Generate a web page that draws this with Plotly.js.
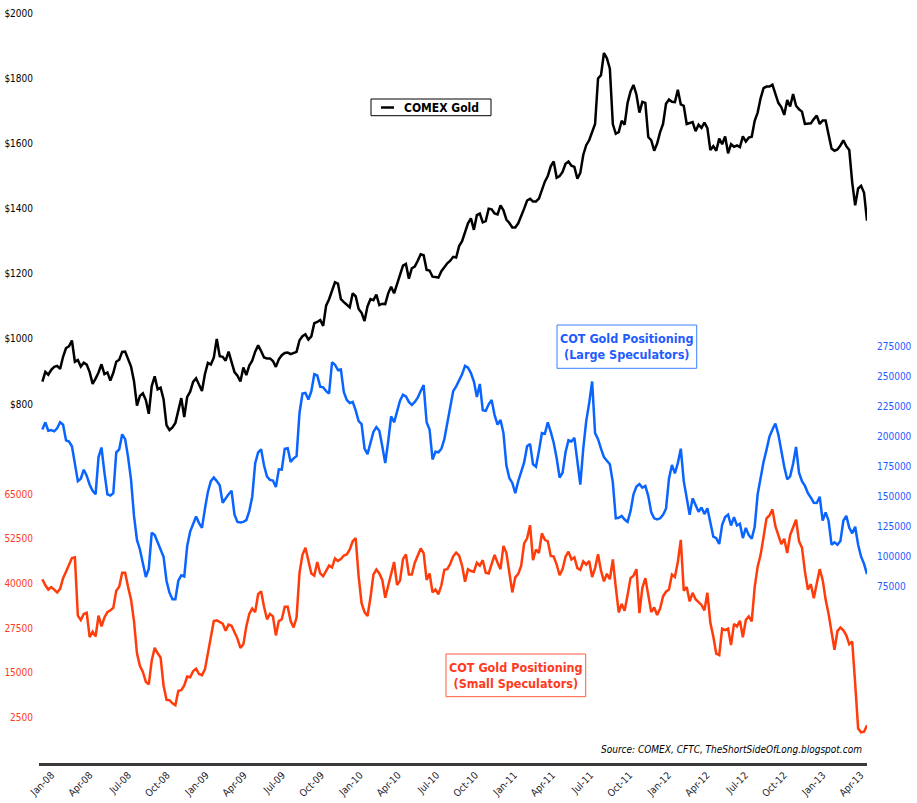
<!DOCTYPE html>
<html>
<head>
<meta charset="utf-8">
<script src="https://cdn.plot.ly/plotly-3.0.1.min.js"></script>
<style>
  html, body { margin: 0; padding: 0; background: #fff; }
  #chart { width: 917px; height: 803px; }
</style>
</head>
<body>
<div id="chart"></div>
<script>
// weekly readings, first week 2008-01-08, last week 2013-05-14
var firstWeek = '2008-01-08';

var gold = [
  869, 899, 890, 905, 914, 917, 908, 945, 972, 977,
  995, 930, 935, 915, 927, 921, 898, 862, 878, 897,
  922, 892, 897, 872, 896, 930, 936, 960, 961, 935,
  915, 870, 795, 825, 833, 812, 770, 855, 885, 845,
  850, 815, 735, 720, 728, 742, 782, 818, 760, 822,
  838, 868, 879, 858, 840, 892, 926, 921, 942, 1000,
  947, 945, 933, 961, 928, 898, 887, 869, 912, 889,
  918, 933, 961, 980, 963, 943, 940, 940, 932, 914,
  937, 950, 957, 958, 953, 956, 960, 996, 1008, 1014,
  998, 1008, 1048, 1052, 1058, 1040, 1102, 1122, 1150, 1174,
  1170, 1122, 1113, 1104, 1097, 1140, 1131, 1092, 1080, 1055,
  1100, 1122, 1119, 1136, 1104, 1108, 1107, 1140, 1160, 1140,
  1168, 1200, 1225, 1230, 1185, 1217, 1222, 1240, 1260, 1257,
  1212, 1210, 1191, 1190, 1188, 1208, 1220, 1232, 1240, 1252,
  1250, 1285,
  1300, 1330, 1355, 1370, 1335, 1380, 1385, 1358, 1362, 1400,
  1398, 1385, 1382, 1410, 1395, 1366, 1356, 1342, 1342, 1355,
  1375, 1400, 1425, 1430, 1422, 1422, 1431, 1455, 1483, 1500,
  1530, 1545, 1495, 1500, 1513, 1538, 1545, 1532, 1528, 1492,
  1510, 1565, 1595, 1610, 1636, 1660, 1800, 1810, 1878, 1862,
  1830, 1660, 1630, 1635, 1670, 1658, 1725, 1760, 1780, 1750,
  1695, 1728, 1725, 1620, 1610, 1578, 1600, 1635, 1660, 1722,
  1735, 1728, 1727, 1765, 1720, 1716, 1660, 1662, 1666, 1638,
  1658, 1648, 1664, 1647, 1580, 1592, 1578, 1615, 1598, 1622,
  1570, 1598, 1590, 1594, 1589, 1622, 1606, 1618, 1621, 1670,
  1695, 1739, 1770, 1775, 1775, 1781, 1755, 1725, 1712, 1688,
  1734, 1714, 1752, 1716, 1705, 1698, 1660, 1660, 1662, 1675,
  1686, 1660, 1671, 1671, 1622, 1585, 1578, 1582, 1594, 1610,
  1592, 1580, 1480, 1410, 1462, 1470, 1449, 1363
];

var largeSpec = [
  206000, 212000, 205000, 205500, 204500, 207000, 212000, 210000, 197000, 196000,
  192000, 177000, 163000, 165000, 172500, 167500, 160000, 155000, 152000, 183000,
  191000, 170000, 152000, 151000, 153000, 187000, 189500, 202000, 198000, 183000,
  164000, 134000, 114000, 106000, 93000, 83000, 90000, 120000, 118000, 112000,
  107000, 100000, 80000, 70000, 64500, 64500, 80000, 84500, 83500, 109000,
  121000, 127000, 133500, 128000, 124000, 140000, 154000, 163000, 166000, 163000,
  159500, 145000, 149000, 152000, 155000, 135000, 129000, 128500, 129000, 130500,
  138000, 150000, 177800, 187000, 189500, 176000, 166700, 164000, 163500, 158000,
  172800, 172500, 190000, 190500, 179000, 182000, 183800, 220000, 236000, 236500,
  231000, 238000, 252000, 251000, 241700, 241200, 238000, 236000, 262000, 260000,
  255500, 256000, 237000, 230600, 228000, 229000, 222000, 213000, 210500, 190000,
  185500, 195000, 204000, 208000, 205000, 192000, 178000, 196000, 217000, 212000,
  222000, 230000, 235000, 233500, 229000, 226400, 229000, 232500, 238000, 243000,
  212000, 206000, 181000, 187500, 187000, 190000, 198000, 211000, 226000, 238000,
  242000, 247000,
  252000, 259000, 257500, 253000, 246000, 233000, 244000, 222000, 221500, 227000,
  230600, 218000, 210000, 214000, 203000, 176000, 165500, 161500, 153000, 163000,
  171000, 178500, 192000, 194000, 177000, 175000, 188000, 203000, 202500, 212000,
  204000, 195000, 182000, 166000, 170000, 187000, 197000, 196000, 199000, 180000,
  160000, 190000, 213000, 228000, 246000, 203000, 198000, 190000, 183000, 180000,
  177000, 162000, 132000, 132500, 134000, 131000, 129000, 138000, 152000, 158500,
  160500, 157500, 159000, 150500, 137000, 132000, 131100, 132000, 135000, 140000,
  165000, 176500, 169500, 178000, 190000, 163000, 150000, 135000, 148600, 142500,
  137500, 141000, 135500, 140300, 127000, 116700, 115500, 110600, 126500, 133000,
  135000, 126000, 133000, 126000, 127500, 115500, 124000, 118000, 115000, 125000,
  152000, 167000, 179000, 189000, 200000, 206000, 211000, 202000, 187000, 175000,
  164500, 167000, 177500, 191500, 170000, 163000, 159000, 153000, 149300, 145000,
  144800, 150000, 130000, 137000, 130000, 110000, 112000, 110000, 113000, 130000,
  134000, 124000, 119500, 125000, 110000, 100000, 94000, 85500
];

var smallSpec = [
  41200, 39500, 38300, 39000, 38300, 37500, 38500, 41500, 43300, 45000,
  47100, 47300, 31000, 29800, 31500, 31800, 25000, 26500, 25200, 31000,
  28000, 30500, 32000, 32500, 33200, 38000, 39100, 43000, 43000, 39000,
  35500, 29500, 20500, 17000, 15300, 12500, 11800, 18500, 22000, 20500,
  19300, 11500, 7500, 7400, 6500, 6000, 10000, 10200, 11500, 14000,
  13800, 15500, 16200, 14700, 14400, 16000, 20500, 24000, 29500, 29700,
  29200, 28800, 26800, 28500, 28200, 26400, 24600, 22000, 23000, 28000,
  31500, 33000, 32000, 37000, 37800, 33500, 30000, 31500, 30800, 25500,
  29500, 30000, 33500, 33500, 29500, 27700, 30500, 43000, 48000, 50000,
  46000, 42800, 42200, 46000, 42800, 42000, 43500, 45000, 44500, 47000,
  46300, 46800, 47800, 48100, 49500, 51800, 52700, 42000, 34500, 32000,
  30900, 36000, 42500, 43900, 42800, 41000, 36000, 39500, 42500, 46000,
  39600, 40800, 46800, 48100, 42500, 42500, 45800, 48000, 49800, 48500,
  41000, 42800, 37500, 38300, 37000, 39500, 43800, 44000, 45500, 47600,
  48600, 47800,
  45000, 40500, 44000, 43500, 43300, 45800, 45000, 46500, 43000, 42800,
  45500, 48000, 45800, 44000, 50500, 48500, 43000, 37500, 41700, 42700,
  45000, 51200, 52600, 56300, 46500, 49500, 48500, 54000, 52200, 51800,
  47700, 47500, 45300, 42300, 44000, 47500, 48900, 46700, 47300, 44300,
  43800, 46200, 45300, 46300, 41800, 44300, 48200, 43600, 40600, 42700,
  41200, 46700, 39000, 31900, 34300, 32400, 36800, 41500, 42200, 44000,
  31700, 38800, 41500, 36500, 32000, 33300, 31200, 33000, 36400, 37700,
  38300, 42500, 41800, 46000, 52200, 38000, 39000, 35000, 37400, 35600,
  34800, 34000, 32500, 37400, 29000, 25200, 20400, 20000, 27400, 27000,
  27400, 22800, 28700, 28000, 29600, 25000, 29800, 30800, 29400, 39000,
  44700, 48000, 53000, 58200, 59000, 60700, 56000, 53500, 51000, 52500,
  48500, 53500, 55400, 57800, 51800, 50000, 43300, 38300, 39800, 35900,
  40000, 44000, 41000, 35500, 31500, 26800, 21500, 26700, 27700, 26900,
  25500, 23000, 23800, 12000, -500, -1600, -1400, 400
];

var quarterTicks = [
  '2008-01-01', '2008-04-01', '2008-07-01', '2008-10-01',
  '2009-01-01', '2009-04-01', '2009-07-01', '2009-10-01',
  '2010-01-01', '2010-04-01', '2010-07-01', '2010-10-01',
  '2011-01-01', '2011-04-01', '2011-07-01', '2011-10-01',
  '2012-01-01', '2012-04-01', '2012-07-01', '2012-10-01',
  '2013-01-01', '2013-04-01'
];
var quarterLabels = [
  'Jan-08', 'Apr-08', 'Jul-08', 'Oct-08', 'Jan-09', 'Apr-09', 'Jul-09', 'Oct-09',
  'Jan-10', 'Apr-10', 'Jul-10', 'Oct-10', 'Jan-11', 'Apr-11', 'Jul-11', 'Oct-11',
  'Jan-12', 'Apr-12', 'Jul-12', 'Oct-12', 'Jan-13', 'Apr-13'
];

var goldTicks = [800, 1000, 1200, 1400, 1600, 1800, 2000];
var goldLabels = ['$800', '$1000', '$1200', '$1400', '$1600', '$1800', '$2000'];
var smallTicks = [2500, 15000, 27500, 40000, 52500, 65000];
var smallLabels = ['2500', '15000', '27500', '40000', '52500', '65000'];
var largeTicks = [75000, 100000, 125000, 150000, 175000, 200000, 225000, 250000, 275000];
var largeLabels = ['75000', '100000', '125000', '150000', '175000', '200000', '225000', '250000', '275000'];

// weekly dates for the x axis
var weeks = [];
var t0 = Date.parse(firstWeek + 'T00:00:00Z');
for (var i = 0; i < gold.length; i++) {
  weeks.push(new Date(t0 + i * 7 * 86400000).toISOString().slice(0, 10));
}

var FONT = '"DejaVu Sans Condensed", "DejaVu Sans", sans-serif';
var BLACK = '#000000', BLUE = '#0a64ff', RED = '#ff3c0a';
var BLUE_TXT = '#1f5cff', RED_TXT = '#ff3a20';

var data = [
  { x: weeks, y: gold, type: 'scatter', mode: 'lines', name: 'COMEX Gold',
    line: { color: BLACK, width: 2.5 }, yaxis: 'y' },
  { x: weeks, y: largeSpec, type: 'scatter', mode: 'lines', name: 'Large Speculators',
    line: { color: BLUE, width: 2.5 }, yaxis: 'y3' },
  { x: weeks, y: smallSpec, type: 'scatter', mode: 'lines', name: 'Small Speculators',
    line: { color: RED, width: 2.5 }, yaxis: 'y2' }
];

// paper position from pixel position (plot area 39..867 x 5..763)
function px(x) { return (x - 39) / 828; }
function py(y) { return (763 - y) / 758; }

function box(x0, y0, x1, y1, color) {
  return { type: 'rect', xref: 'paper', yref: 'paper',
    x0: px(x0), x1: px(x1), y0: py(y1), y1: py(y0),
    line: { color: color, width: 1 }, fillcolor: '#ffffff', layer: 'above' };
}

var layout = {
  width: 917, height: 803,
  margin: { t: 5, r: 50, l: 39, b: 40 },
  paper_bgcolor: '#ffffff', plot_bgcolor: '#ffffff',
  showlegend: false,
  hovermode: false,
  font: { family: FONT, size: 10, color: '#222' },
  xaxis: {
    type: 'date', range: ['2007-12-31', '2013-05-14'],
    tickvals: quarterTicks, ticktext: quarterLabels, tickangle: -45,
    ticklabelshift: 12,
    tickfont: { family: FONT, size: 10, color: '#1c1c2c' },
    showgrid: false, zeroline: false,
    showline: true, linecolor: '#3a3a3a', linewidth: 2.5,
    ticks: ''
  },
  yaxis: {
    range: [-302.6, 2025.5], tickvals: goldTicks, ticktext: goldLabels,
    tickfont: { family: FONT, size: 10, color: '#000' },
    showgrid: false, zeroline: false, showline: false,
    ticks: 'outside', ticklen: 3, tickcolor: 'rgba(0,0,0,0)'
  },
  yaxis2: {
    overlaying: 'y', side: 'left',
    range: [-10157, 201630], tickvals: smallTicks, ticktext: smallLabels,
    tickfont: { family: FONT, size: 10, color: RED_TXT },
    showgrid: false, zeroline: false, showline: false,
    ticks: 'outside', ticklen: 3, tickcolor: 'rgba(0,0,0,0)'
  },
  yaxis3: {
    overlaying: 'y', side: 'right',
    range: [-71917, 559750], tickvals: largeTicks, ticktext: largeLabels,
    tickfont: { family: FONT, size: 10, color: BLUE_TXT },
    showgrid: false, zeroline: false, showline: false,
    ticks: 'outside', ticklen: 7, tickcolor: 'rgba(0,0,0,0)'
  },
  shapes: [
    box(371, 99, 491, 115.7, '#000000'),
    { type: 'line', xref: 'paper', yref: 'paper', layer: 'above',
      x0: px(381), x1: px(394), y0: py(107.5), y1: py(107.5),
      line: { color: '#000000', width: 2.5 } },
    box(557, 325, 696.7, 368.3, '#3d7fff'),
    box(446, 654, 585.7, 696.7, '#ff5a3c')
  ],
  annotations: [
    { xref: 'paper', yref: 'paper', x: px(441), y: py(107.6), xanchor: 'center', yanchor: 'middle',
      text: '<b>COMEX Gold</b>', showarrow: false,
      font: { family: FONT, size: 12, color: '#000' } },
    { xref: 'paper', yref: 'paper', x: px(627), y: py(346.5), xanchor: 'center', yanchor: 'middle',
      text: '<b>COT Gold Positioning</b><br><b>(Large Speculators)</b>', showarrow: false,
      font: { family: FONT, size: 12.5, color: BLUE_TXT } },
    { xref: 'paper', yref: 'paper', x: px(516), y: py(675.3), xanchor: 'center', yanchor: 'middle',
      text: '<b>COT Gold Positioning</b><br><b>(Small Speculators)</b>', showarrow: false,
      font: { family: FONT, size: 12.5, color: RED_TXT } },
    { xref: 'paper', yref: 'paper', x: px(864), y: py(749), xanchor: 'right', yanchor: 'middle',
      text: '<i>Source: COMEX, CFTC, TheShortSideOfLong.blogspot.com</i>', showarrow: false,
      font: { family: FONT, size: 10, color: '#000' } }
  ]
};

Plotly.newPlot('chart', data, layout, { displayModeBar: false, staticPlot: true });
</script>
</body>
</html>
